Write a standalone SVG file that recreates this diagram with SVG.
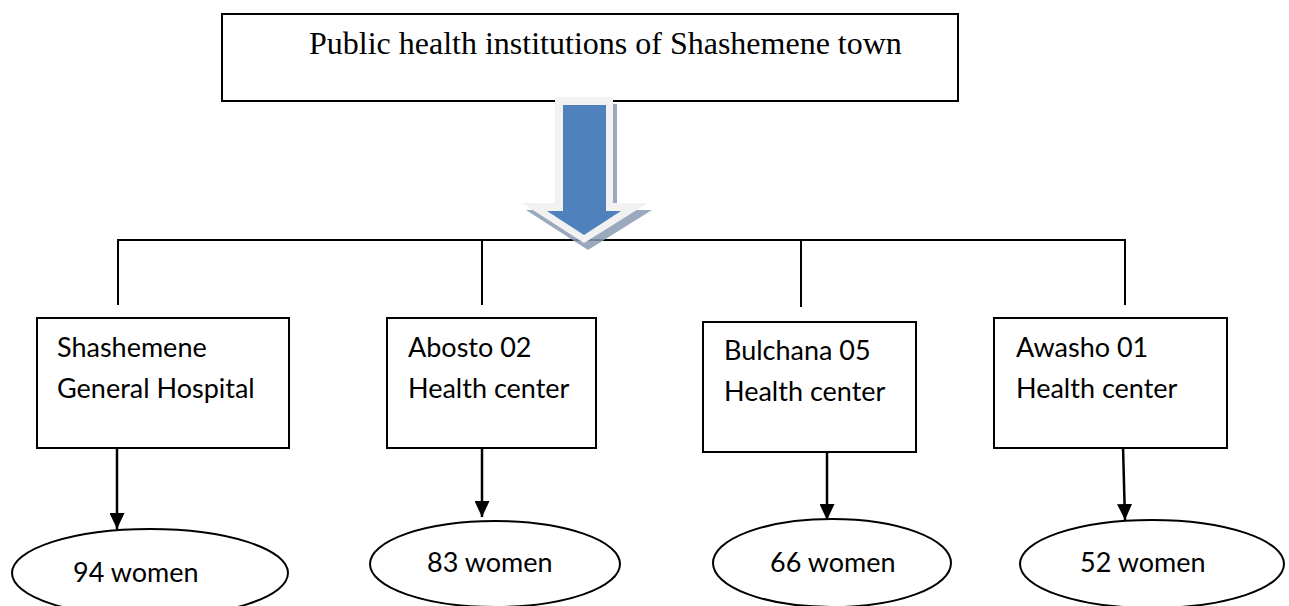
<svg xmlns="http://www.w3.org/2000/svg" width="1289" height="606" viewBox="0 0 1289 606">
<style>
.box{fill:#fff;stroke:#000;stroke-width:2}
.ell{fill:#fff;stroke:#000;stroke-width:2}
.ln{stroke:#000;stroke-width:2;fill:none}
.arr{stroke:#000;stroke-width:2.5;fill:none;marker-end:url(#ah)}
.t{font-family:Lato,"Noto Sans",sans-serif;font-size:27px;fill:#000}
.title{font-family:"Liberation Serif","Times New Roman",serif;font-size:32px;fill:#000}
</style>
<defs>
<marker id="ah" viewBox="0 0 16 15" refX="16" refY="7.5" markerWidth="16" markerHeight="15" markerUnits="userSpaceOnUse" orient="auto">
<path d="M0,0 L16,7.5 L0,15 z" fill="#000"/>
</marker>
</defs>
<g id="connectors">
<polyline class="ln" points="118,305 118,240 1125,240 1125,305"/>
<line class="ln" x1="482" y1="240" x2="482" y2="305"/>
<line class="ln" x1="801" y1="240" x2="801" y2="307"/>
<line class="arr" x1="117" y1="449" x2="117" y2="529"/>
<line class="arr" x1="482" y1="449" x2="482" y2="517"/>
<line class="arr" x1="827" y1="453" x2="827" y2="520"/>
<line class="arr" x1="1123" y1="446" x2="1125" y2="520"/>
</g>
<g id="top">
<rect class="box" x="222" y="14" width="736" height="87"/>
<text class="title" x="309" y="54">Public health institutions of Shashemene town</text>
</g>
<g id="bigarrow">
<polygon points="559,104 617,104 617,210 652,210 588,250 526,210 559,210" fill="#8a9ab3" opacity="0.85"/>
<polygon points="555,97 613,97 613,203 648,203 584,243 522,203 555,203" fill="#f2f2f2"/>
<polygon points="563,105 606,105 606,211 621,211 584,235 547,211 563,211" fill="#4f81bd"/>
</g>
<g id="n1">
<rect class="box" x="37" y="318" width="252" height="130"/>
<text class="t" x="57" y="357">Shashemene</text>
<text class="t" x="57" y="398">General Hospital</text>
</g>
<g id="n2">
<rect class="box" x="387" y="318" width="209" height="130"/>
<text class="t" x="408" y="357">Abosto 02</text>
<text class="t" x="408" y="398">Health center</text>
</g>
<g id="n3">
<rect class="box" x="703" y="322" width="213" height="130"/>
<text class="t" x="724" y="360">Bulchana 05</text>
<text class="t" x="724" y="401">Health center</text>
</g>
<g id="n4">
<rect class="box" x="994" y="318" width="233" height="130"/>
<text class="t" x="1016" y="357">Awasho 01</text>
<text class="t" x="1016" y="398">Health center</text>
</g>
<g id="e1">
<ellipse class="ell" cx="150" cy="573" rx="138" ry="44"/>
<text class="t" x="73" y="582">94 women</text>
</g>
<g id="e2">
<ellipse class="ell" cx="495" cy="564" rx="125" ry="43"/>
<text class="t" x="427" y="572">83 women</text>
</g>
<g id="e3">
<ellipse class="ell" cx="832" cy="563" rx="119" ry="44"/>
<text class="t" x="770" y="572">66 women</text>
</g>
<g id="e4">
<ellipse class="ell" cx="1152" cy="564" rx="132" ry="44"/>
<text class="t" x="1080" y="572">52 women</text>
</g>
</svg>
